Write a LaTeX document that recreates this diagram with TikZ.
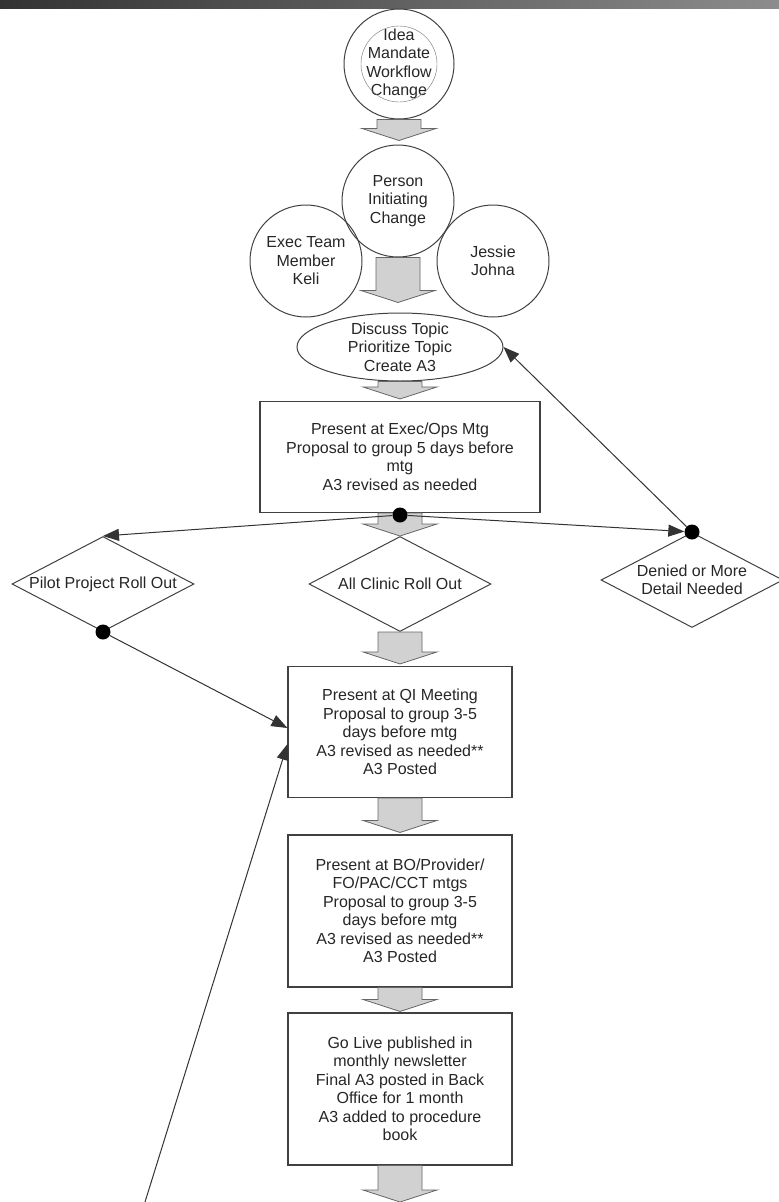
\documentclass[tikz,border=0pt]{standalone}
\usepackage{fontspec}
\setmainfont{Liberation Sans}
\usepackage{tikz}
\usetikzlibrary{shapes.geometric, arrows.meta, calc}
\tikzset{
    every node/.style={font=\fontsize{16}{18.5}\selectfont, align=center, text=black!85},
    bubble/.style={circle, draw=black!75, line width=1pt, minimum size=112pt, inner sep=0pt},
    talk/.style={ellipse, draw=black!75, line width=1pt, minimum width=206pt, minimum height=68pt, inner sep=0pt},
    stepbox/.style={rectangle, draw=black!75, line width=1.1pt, minimum width=224pt, inner sep=0pt},
    choice/.style={diamond, draw=black!75, line width=1pt, minimum width=182pt, minimum height=95pt, inner sep=0pt},
    dot/.style={circle, fill=black, minimum size=15pt, inner sep=0pt},
    fat/.style={fill=black!18, draw=black!60, line width=0.8pt},
    every edge/.style={
        draw,
        -{Triangle[length=16pt,width=12pt]},
        draw=black!80,
        line width=1pt
    }
}
% grey block arrow from one node to the next
\newcommand{\fatarrow}[2]{%
  \filldraw[fat] let \p1=(#1), \p2=(#2) in
    (\x1-22pt,\y1) -- (\x1-22pt,\y2+12pt) -- (\x1-37pt,\y2+12pt) -- (\x1,\y2)
    -- (\x1+37pt,\y2+12pt) -- (\x1+22pt,\y2+12pt) -- (\x1+22pt,\y1) -- cycle;}

\begin{document}
\begin{tikzpicture}[x=1pt, y=-1pt]
	\useasboundingbox (0,0) rectangle (779,1202);
	\shade[left color=black!80, right color=black!45] (0,0) rectangle (779,8);
	\node[bubble, minimum size=110pt] (idea) at (399, 64) {Idea\\Mandate\\Workflow\\Change};
	\draw[black!55] (idea.center) circle[radius=38pt];
	\node[bubble] (person) at (398, 201) {Person\\Initiating\\Change};
	\node[bubble] (exec) at (306, 261) {Exec Team\\Member\\Keli};
	\node[bubble] (jessie) at (493, 261) {Jessie\\Johna};
	\node[talk, label={center:Discuss Topic\\Prioritize Topic\\Create A3}] (discuss) at (400, 347) {};
	\node[stepbox, minimum width=280pt, minimum height=111pt] (execmtg) at (400, 457)
		{Present at Exec/Ops Mtg\\Proposal to group 5 days before\\mtg\\A3 revised as needed};
	\node[choice, label={center:Pilot Project Roll Out}] (pilot) at (103, 584) {};
	\node[choice, label={center:All Clinic Roll Out}] (clinic) at (400, 584) {};
	\node[choice, label={center:Denied or More\\Detail Needed}] (denied) at (692, 580) {};
	\node[stepbox, minimum height=131pt] (qi) at (400, 732)
		{Present at QI Meeting\\Proposal to group 3-5\\days before mtg\\A3 revised as needed**\\A3 Posted};
	\node[stepbox, minimum height=152pt] (bo) at (400, 911)
		{Present at BO/Provider/\\FO/PAC/CCT mtgs\\Proposal to group 3-5\\days before mtg\\A3 revised as needed**\\A3 Posted};
	\node[stepbox, minimum height=152pt] (golive) at (400, 1089)
		{Go Live published in\\monthly newsletter\\Final A3 posted in Back\\Office for 1 month\\A3 added to procedure\\book};
	\coordinate (end) at (400, 1202);
	\coordinate (loop) at (145, 1202);

	\fatarrow{idea.south}{[yshift=4pt]person.north}
	\fatarrow{person.south}{[yshift=10pt]discuss.north}
	\fatarrow{discuss.south}{[yshift=2pt]execmtg.north}
	\fatarrow{execmtg.south}{clinic.north}
	\fatarrow{clinic.south}{[yshift=2pt]qi.north}
	\fatarrow{qi.south}{[yshift=2pt]bo.north}
	\fatarrow{bo.south}{[yshift=1pt]golive.north}
	\fatarrow{golive.south}{end}

	\node[dot] (split) at (400, 515) {};
	\node[dot] (pilotdot) at (pilot.south) {};
	\node[dot] (denieddot) at (denied.north) {};
	\draw
	(split) edge (pilot.north)
	(split) edge (denieddot)
	(denieddot) edge (discuss.east)
	(pilotdot) edge ([yshift=4pt]qi.west)
	(loop) edge ([yshift=-12pt]qi.west);
\end{tikzpicture}
\end{document}
